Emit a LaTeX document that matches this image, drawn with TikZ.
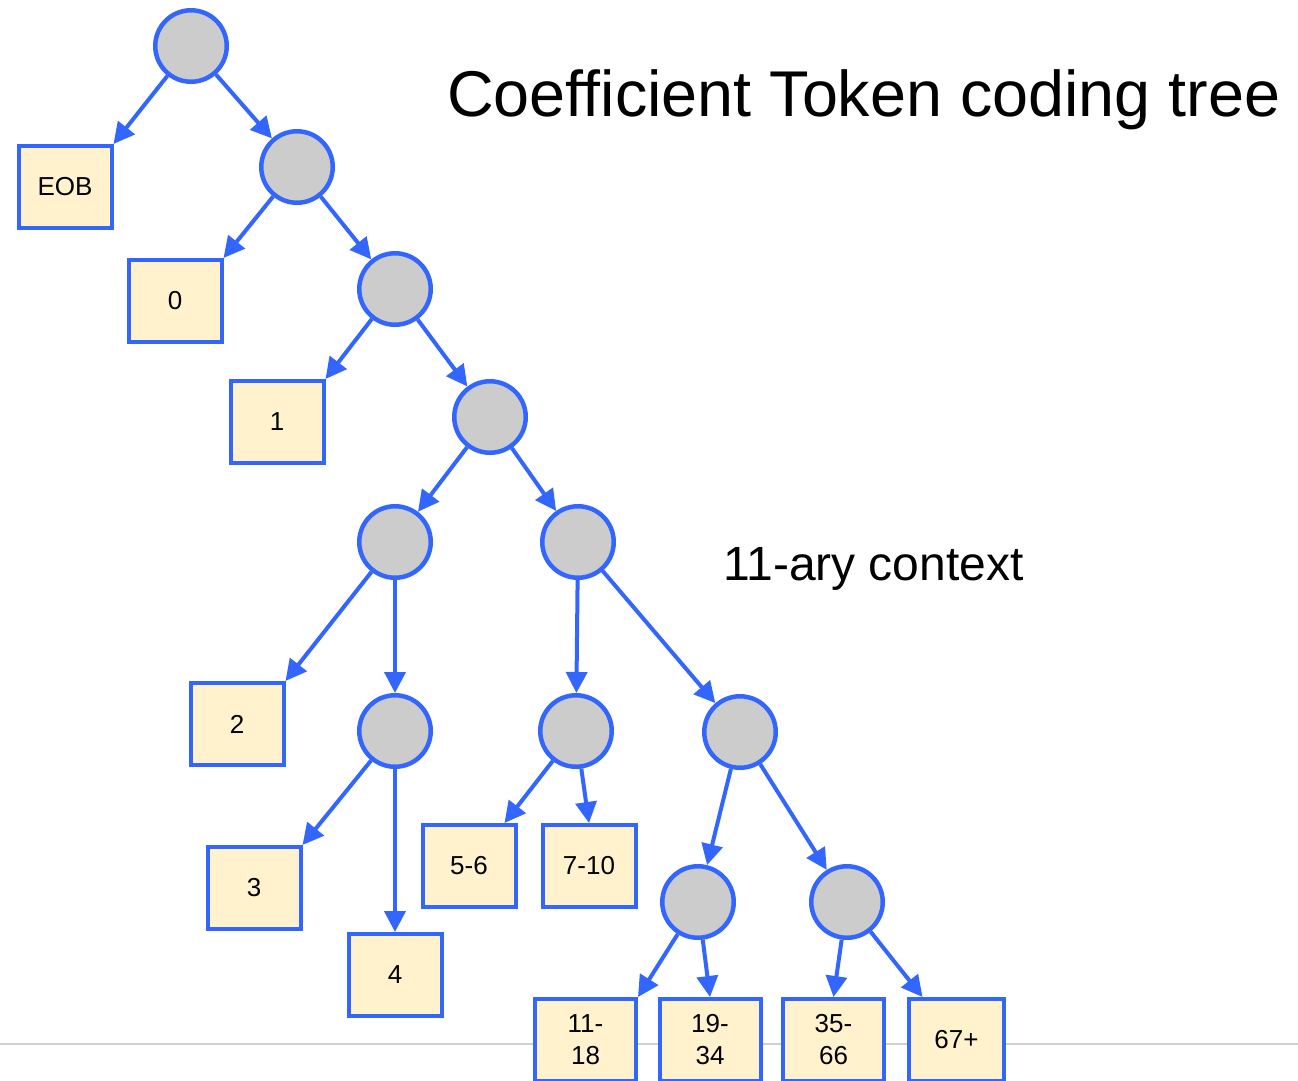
\documentclass[tikz,border=0pt]{standalone}
\usepackage{fontspec}
\setmainfont{Liberation Sans}
\usetikzlibrary{arrows.meta}
\definecolor{edgeblue}{RGB}{51,102,255}
\definecolor{nodegray}{RGB}{204,204,204}
\definecolor{leafcream}{RGB}{255,242,204}
\definecolor{rulegray}{RGB}{208,208,208}

\begin{document}
\begin{tikzpicture}[x=1pt,y=-1pt,
  inner/.style={circle,draw=edgeblue,fill=nodegray,line width=4.5pt,minimum size=71.5pt,inner sep=0pt},
  leaf/.style={rectangle,draw=edgeblue,fill=leafcream,line width=4pt,minimum width=93pt,minimum height=82pt,inner sep=0pt,align=center,font=\fontsize{26}{32}\selectfont},
  wideleaf/.style={leaf,minimum width=101pt},
  link/.style={draw=edgeblue,line width=4pt,-{Triangle[length=21pt,width=21pt]}}]
\useasboundingbox (0,0) rectangle (1298,1080);
\clip (0,0) rectangle (1298,1080);

% thin rule across the foot
\draw[rulegray,line width=1.5pt] (0,1044) -- (1298,1044);

% headings
\node[anchor=base west,inner sep=0pt,font=\fontsize{64.7}{78}\selectfont] (title) at (447,116) {Coefficient Token coding tree};
\node[anchor=base west,inner sep=0pt,font=\fontsize{48}{58}\selectfont] (ctx) at (723,580) {11-ary context};

% internal nodes
\node[inner] (c1) at (191,46) {};
\node[inner] (c2) at (297,167) {};
\node[inner] (c3) at (395,289) {};
\node[inner] (c4) at (490,417) {};
\node[inner] (c5) at (395,542) {};
\node[inner] (c6) at (578,542) {};
\node[inner] (c7) at (395,731) {};
\node[inner] (c8) at (576,731) {};
\node[inner] (c9) at (740,732) {};
\node[inner] (c10) at (698,902) {};
\node[inner] (c11) at (847,902) {};

% leaves
\node[leaf] (eob) at (65,187) {EOB};
\node[leaf] (l0) at (175,301) {0};
\node[leaf] (l1) at (277,422) {1};
\node[leaf] (l2) at (237,724) {2};
\node[leaf] (l3) at (254,888) {3};
\node[leaf] (l4) at (395,975) {4};
\node[leaf] (l56) at (469,866) {5-6};
\node[leaf] (l710) at (589,866) {7-10};
\node[wideleaf] (l1118) at (585.5,1040) {11-\\18};
\node[wideleaf] (l1934) at (710,1040) {19-\\34};
\node[wideleaf] (l3566) at (833.5,1040) {35-\\66};
\node[leaf,minimum width=95.5pt] (l67) at (956.5,1040) {67+};

% branches
\draw[link] (c1) -- (eob.north east);
\draw[link] (c1) -- (c2);
\draw[link] (c2) -- (l0.north east);
\draw[link] (c2) -- (c3);
\draw[link] (c3) -- (l1.north east);
\draw[link] (c3) -- (c4);
\draw[link] (c4) -- (c5);
\draw[link] (c4) -- (c6);
\draw[link] (c5) -- (l2.north east);
\draw[link] (c5) -- (c7);
\draw[link] (c7) -- (l3.north east);
\draw[link] (c7) -- (l4);
\draw[link] (c6) -- (c8);
\draw[link] (c6) -- (c9);
\draw[link] (c8) -- ([xshift=-13pt]l56.north east);
\draw[link] (c8) -- (l710.north);
\draw[link] (c9) -- (c10);
\draw[link] (c9) -- (c11);
\draw[link] (c10) -- (l1118.north east);
\draw[link] (c10) -- (l1934.north);
\draw[link] (c11) -- (l3566.north);
\draw[link] (c11) -- ([xshift=-34pt]l67.north);
\end{tikzpicture}
\end{document}
